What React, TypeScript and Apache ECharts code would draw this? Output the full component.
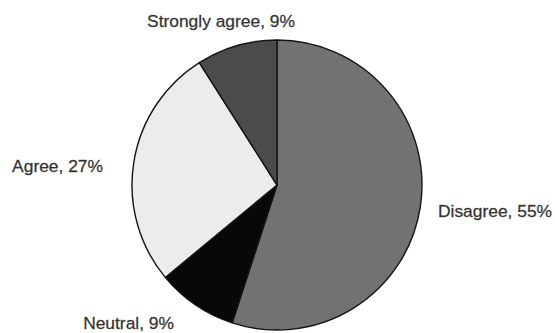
import React, { useEffect, useRef } from "react";
import * as echarts from "echarts";

const categories = ["Disagree", "Neutral", "Agree", "Strongly agree"];
const values = [55, 9, 27, 9];
const colors = ["#727272", "#080808", "#ececec", "#4b4b4b"];

const labelPlacement = [
  { x: 438, y: 211, align: "left" },
  { x: 174, y: 323, align: "right" },
  { x: 103, y: 166, align: "right" },
  { x: 221, y: 21, align: "center" },
];

export default function App() {
  const ref = useRef<HTMLDivElement>(null);
  useEffect(() => {
    document.body.style.margin = "0";
    const chart = echarts.init(ref.current!, null, { renderer: "svg" });
    chart.setOption({
      animation: false,
      backgroundColor: "#ffffff",
      series: [
        {
          type: "pie",
          center: [277, 185],
          radius: 145,
          startAngle: 90,
          clockwise: true,
          data: categories.map((c, i) => ({
            name: c,
            value: values[i],
            itemStyle: { color: colors[i] },
          })),
          itemStyle: { borderColor: "#151515", borderWidth: 1.4 },
          label: {
            show: true,
            position: "outside",
            formatter: (p: any) => `${p.name}, ${p.value}%`,
            fontFamily: "Liberation Sans, Arial, sans-serif",
            fontSize: 17.4,
            color: "#333333",
            textBorderColor: "#555555",
            textBorderWidth: 0.3,
            overflow: "none",
            width: 200,
          },
          labelLine: { show: false },
          labelLayout: (p: any) => {
            const lp = labelPlacement[p.dataIndex];
            return { x: lp.x, y: lp.y, align: lp.align, verticalAlign: "middle" };
          },
          emphasis: { disabled: true },
        },
      ],
    });
    return () => chart.dispose();
  }, []);
  return <div ref={ref} style={{ width: 555, height: 333 }} />;
}
